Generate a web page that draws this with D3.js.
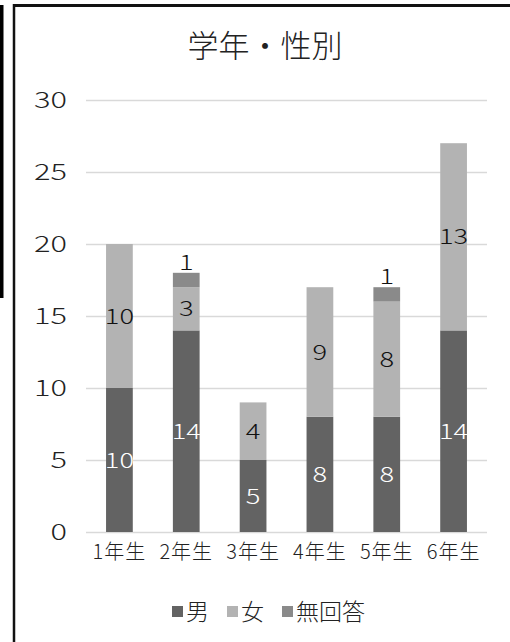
<!DOCTYPE html>
<html>
<head>
<meta charset="utf-8">
<script src="https://cdn.jsdelivr.net/npm/d3@7"></script>
<style>
  body { margin: 0; background: #fff; }
  svg { display: block; font-family: "Noto Sans CJK JP", "Noto Sans", sans-serif; font-weight: 300; }
</style>
</head>
<body>
<svg id="chart" width="510" height="642"></svg>
<script>
const categories = ['1年生', '2年生', '3年生', '4年生', '5年生', '6年生'];
const male = [10, 14, 5, 8, 8, 14];
const female = [10, 3, 4, 9, 8, 13];
const noAnswer = [0, 1, 0, 0, 1, 0];
const yTicks = [0, 5, 10, 15, 20, 25, 30];
const seriesNames = ['男', '女', '無回答'];
const seriesColors = ['#636363', '#b3b3b3', '#8a8a8a'];

// digits in the original font are much wider than Noto's
const digitStretch = 1.4;

const svg = d3.select('#chart');

// frame lines (cropped sheet border)
svg.append('rect').attr('x', 0).attr('y', 5).attr('width', 3.5).attr('height', 293).attr('fill', '#000');
svg.append('line').attr('x1', 13).attr('x2', 510).attr('y1', 5.5).attr('y2', 5.5)
    .attr('stroke', '#111').attr('stroke-width', 3);
svg.append('line').attr('x1', 14).attr('x2', 14).attr('y1', 4).attr('y2', 642)
    .attr('stroke', '#111').attr('stroke-width', 2.5);

const x = d3.scaleBand()
    .domain(categories)
    .range([86, 487])
    .paddingInner(0.6)
    .paddingOuter(0.3);

const y = d3.scaleLinear()
    .domain([0, 30])
    .range([532, 100]);

// title
svg.append('text')
    .attr('x', 265).attr('y', 57)
    .attr('text-anchor', 'middle')
    .attr('font-size', 31)
    .attr('fill', '#222')
    .text('学年・性別');

// grid + y labels
const yAxis = d3.axisLeft(y)
    .tickValues(yTicks)
    .tickSize(-(487 - 86))
    .tickPadding(19);

const gy = svg.append('g')
    .attr('transform', 'translate(86,0)')
    .call(yAxis);
gy.select('.domain').remove();
gy.selectAll('.tick line').attr('stroke', '#d9d9d9').attr('stroke-width', 1.5);
gy.selectAll('.tick text')
    .attr('font-size', 22)
    .attr('font-family', '"Noto Sans CJK JP", sans-serif')
    .attr('font-weight', 300)
    .attr('fill', '#222')
    .attr('x', -19 / digitStretch)
    .attr('transform', `scale(${digitStretch},1)`);

// stacked data
const rows = categories.map((c, i) => ({cat: c, male: male[i], female: female[i], none: noAnswer[i]}));
const stack = d3.stack().keys(['male', 'female', 'none']);
const stacked = stack(rows);

const layers = svg.append('g').selectAll('g')
    .data(stacked)
    .join('g')
    .attr('fill', (d, i) => seriesColors[i]);

layers.selectAll('rect')
    .data(d => d)
    .join('rect')
    .attr('x', d => x(d.data.cat))
    .attr('width', x.bandwidth())
    .attr('y', d => y(d[1]))
    .attr('height', d => y(d[0]) - y(d[1]));

// data labels
const labels = svg.append('g')
    .attr('font-size', 21)
    .attr('text-anchor', 'middle');

stacked.forEach((layer, si) => {
    labels.selectAll(null)
        .data(layer.filter(d => d[1] - d[0] > 0))
        .join('text')
        .attr('transform', d => {
            let cx = x(d.data.cat) + x.bandwidth() / 2;
            let cy = si === 2 ? y(d[1]) - 3 : (y(d[0]) + y(d[1])) / 2;
            return `translate(${cx},${cy}) scale(${digitStretch - 0.1},1)`;
        })
        .attr('dy', si === 2 ? 0 : '0.36em')
        .attr('fill', si === 0 ? '#fff' : '#111')
        .text(d => d[1] - d[0]);
});

// x labels
svg.append('g')
    .selectAll('text')
    .data(categories)
    .join('text')
    .attr('x', d => x(d) + x.bandwidth() / 2)
    .attr('y', 552)
    .attr('dy', '0.36em')
    .attr('text-anchor', 'middle')
    .attr('font-size', 20)
    .attr('letter-spacing', 1)
    .attr('fill', '#222')
    .text(d => d);

// legend
const legend = svg.append('g').attr('transform', 'translate(172,612)');
let lx = 0;
seriesNames.forEach((name, i) => {
    const g = legend.append('g').attr('transform', `translate(${lx},0)`);
    g.append('rect').attr('x', 0).attr('y', -6).attr('width', 11).attr('height', 11)
        .attr('fill', seriesColors[i]);
    const t = g.append('text')
        .attr('x', 14).attr('y', 0)
        .attr('dy', '0.36em')
        .attr('font-size', 23)
        .attr('fill', '#222')
        .text(name);
    lx += 14 + t.node().getComputedTextLength() + 18;
});
</script>
</body>
</html>
